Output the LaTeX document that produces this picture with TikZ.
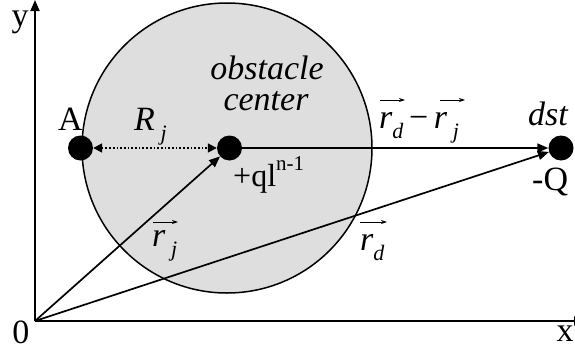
\documentclass[tikz,border=0pt]{standalone}
\usepackage{fontspec}
\setmainfont{Liberation Serif}
\usetikzlibrary{arrows.meta,calc}
\newcommand{\subit}[1]{\raisebox{-0.3em}{\fontsize{22}{22}\selectfont\itshape #1}}
\begin{document}
\begin{tikzpicture}[x=1pt,y=-1pt,
  lbl/.style={inner sep=0pt, anchor=base west, font=\fontsize{34}{34}\selectfont},
  axlbl/.style={inner sep=0pt, font=\fontsize{34}{34}\selectfont},
  dot/.style={circle, fill=black, minimum size=25pt, inner sep=0pt},
  obst/.style={circle, draw=black, line width=1.5pt, fill=obstgray, minimum size=290pt, inner sep=0pt},
  vecline/.style={line width=1.7pt, -{Triangle[length=11pt,width=9pt]}},
  dist/.style={line width=1.7pt, dotted, {Triangle[length=9pt,width=9pt]}-{Triangle[length=9pt,width=9pt]}},
  axis/.style={line width=1.8pt, -{Triangle[length=11pt,width=9pt]}},
  vecmark/.style={line width=0.9pt, -{Stealth[length=6pt,width=4pt]}}]
\definecolor{obstgray}{RGB}{222,222,222}
\useasboundingbox (0,0) rectangle (575,356);
\clip (0,0) rectangle (575,356);
\fill[white] (0,0) rectangle (575,356);
% obstacle
\node[obst] (obstacle) at (227,148) {};
% axes
\coordinate (O) at (35,321);
\coordinate (ytop) at (35,0);
\coordinate (xend) at (585,321);
\draw[axis] (O) -- (ytop);
\draw[axis] (O) -- (xend);
% points
\node[dot] (A) at (80.5,148) {};
\node[dot] (c) at (229.5,148) {};
\node[dot] (dst) at (561,148) {};
% vectors
\draw[dist] (A) -- (c);
\draw[vecline] (O) -- (c);
\draw[vecline] (O) -- (dst);
\draw[vecline] (c) -- (dst);
% labels
\node[axlbl, anchor=base] (ylab) at (20,27) {y};
\node[axlbl] (olab) at (21,332) {0};
\node[axlbl] (xlab) at (565,334) {x};
\node[lbl] (Alab) at (58,130) {A};
\node[lbl] (Rlab) at (134,130) {\itshape R\,\subit{j}};
\node[lbl, anchor=base, font=\fontsize{34}{34}\selectfont\itshape] (obl1) at (267,79) {obstacle};
\node[lbl, anchor=base, font=\fontsize{34}{34}\selectfont\itshape] (obl2) at (266,110) {center};
\node[lbl, font=\fontsize{32}{32}\selectfont] (qlab) at (233,186) {+ql\raisebox{0.5em}{\fontsize{21}{21}\selectfont n-1}};
\node[lbl] (rdr) at (379,128) {\itshape r\subit{d}\,\upshape−\itshape\,r\,\subit{j}};
\node[lbl, font=\fontsize{34}{34}\selectfont\itshape] (dstlab) at (528,125) {dst};
\node[lbl] (Qlab) at (532,190) {-Q};
\node[lbl] (rjlab) at (152,246) {\itshape r\,\subit{j}};
\node[lbl] (rdlab) at (360,250) {\itshape r\subit{d}};
% vector marks
\draw[vecmark] ($(rjlab.base west)+(1,-24)$) -- ++(25,0);
\draw[vecmark] ($(rdlab.base west)+(0,-28)$) -- ++(27,0);
\draw[vecmark] ($(rdr.base west)+(1,-28)$) -- ++(25,0);
\draw[vecmark] ($(rdr.base west)+(61,-28)$) -- ++(25,0);
\end{tikzpicture}
\end{document}
